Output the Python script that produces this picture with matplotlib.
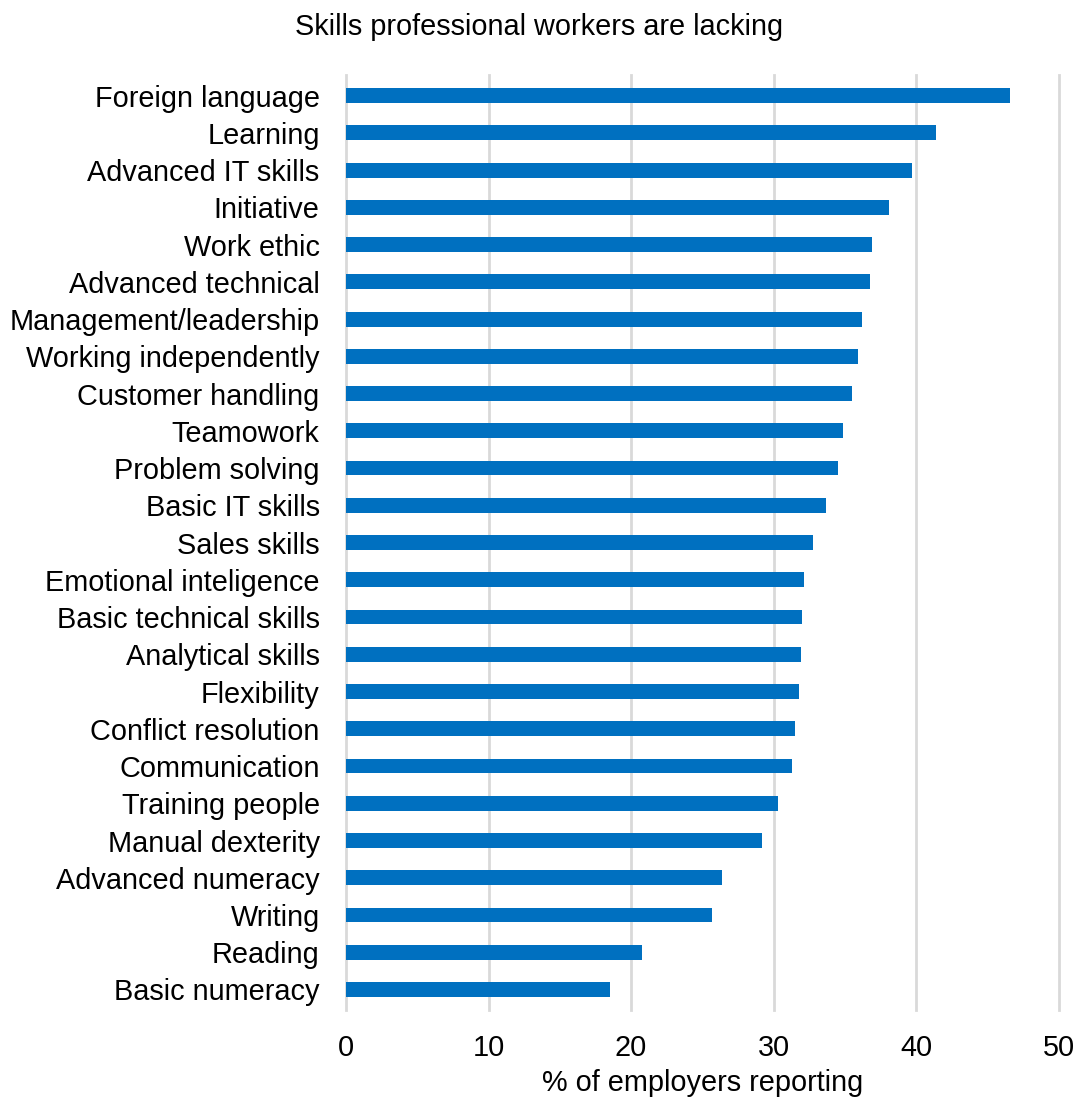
import matplotlib
matplotlib.use("Agg")
import matplotlib.pyplot as plt

plt.rcParams['font.family'] = ['Liberation Sans', 'DejaVu Sans']

# skills, top to bottom as in the chart
skills = [
    "Foreign language", "Learning", "Advanced IT skills", "Initiative",
    "Work ethic", "Advanced technical", "Management/leadership",
    "Working independently", "Customer handling", "Teamowork",
    "Problem solving", "Basic IT skills", "Sales skills",
    "Emotional inteligence", "Basic technical skills", "Analytical skills",
    "Flexibility", "Conflict resolution", "Communication", "Training people",
    "Manual dexterity", "Advanced numeracy", "Writing", "Reading",
    "Basic numeracy",
]
pct_reporting = [
    46.6, 41.4, 39.7, 38.1, 36.9, 36.8, 36.2, 35.9, 35.5, 34.9,
    34.5, 33.7, 32.8, 32.1, 32.0, 31.9, 31.8, 31.5, 31.3, 30.3,
    29.2, 26.4, 25.7, 20.8, 18.5,
]
x_ticks = [0, 10, 20, 30, 40, 50]

fig = plt.figure(figsize=(10.78, 10.99), dpi=100)
ax = fig.add_axes([0.321, 0.081, 0.661, 0.851])

n = len(skills)
ypos = list(range(n - 1, -1, -1))
ax.barh(ypos, pct_reporting, height=0.4, color='#0070C0', zorder=3)

ax.set_xlim(0, 50)
ax.set_ylim(-0.55, n - 1 + 0.56)
ax.set_xticks(x_ticks)
ax.set_yticks(ypos)
ax.set_yticklabels(skills)
ax.tick_params(axis='both', length=0, labelsize=20.8, colors='black')
ax.tick_params(axis='y', pad=19)
ax.tick_params(axis='x', pad=17)

ax.grid(axis='x', color='#d9d9d9', linewidth=2, zorder=0)
ax.grid(axis='y', visible=False)
for gl in ax.get_xgridlines():
    gl.set_clip_on(False)
for s in ax.spines.values():
    s.set_visible(False)

ax.set_xlabel('% of employers reporting', fontsize=20.8, labelpad=5)
fig.text(0.5, 0.975, 'Skills professional workers are lacking', fontsize=20.8,
         ha='center', va='center')

fig.savefig('out.png', dpi=100)
